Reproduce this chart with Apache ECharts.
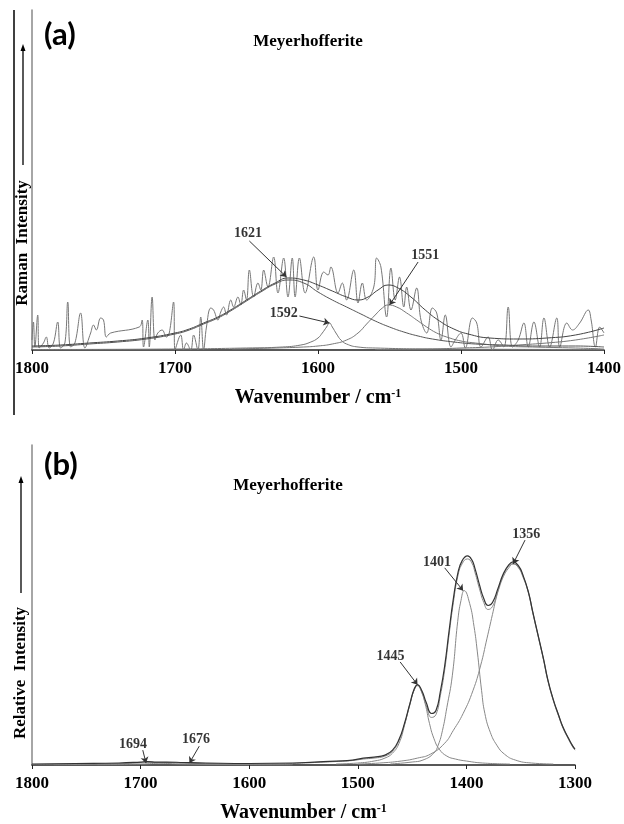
<!DOCTYPE html>
<html>
<head>
<meta charset="utf-8">
<title>Meyerhofferite</title>
<script src="https://cdn.jsdelivr.net/npm/echarts@6/dist/echarts.min.js"></script>
<style>
  html, body { margin: 0; padding: 0; background: #fff; }
  #chart { width: 624px; height: 824px; }
</style>
</head>
<body>
<div id="chart"></div>
<script>
// ---- panel (a): Raman spectrum 1800-1400 cm-1 (intensity in arbitrary units)
var ticksA = [1800, 1700, 1600, 1500, 1400];
var spectrumA = [
  [1800,10],[1799,28],[1798,3],[1796,35],[1795,2],[1792,7],[1790,13],[1788,2],[1785,7],[1782,28],
  [1780,2],[1777,7],[1775,48],[1773,3],[1770,7],[1766,37],[1763,2],[1759,17],[1757,25],[1755,20],
  [1752,32],[1750,30],[1748,13],[1745,17],[1725,23],[1723,30],[1722,3],[1719,30],[1718,3],[1716,53],
  [1714,10],[1712,17],[1709,20],[1706,13],[1704,17],[1701,48],[1700,0],[1696,15],[1694,0],[1692,7],
  [1689,0],[1687,15],[1684,0],[1682,33],[1680,0],[1678,23],[1675,42],[1673,40],[1670,30],[1668,38],
  [1666,43],[1664,35],[1661,50],[1659,43],[1656,53],[1654,45],[1652,60],[1650,50],[1648,80],[1645,53],
  [1642,67],[1640,60],[1638,80],[1635,63],[1631,93],[1628,57],[1624,92],[1621,53],[1618,92],[1616,53],
  [1613,92],[1609,57],[1603,93],[1600,60],[1596,78],[1593,75],[1591,83],[1586,57],[1583,67],[1580,50],
  [1575,80],[1572,47],[1569,67],[1566,50],[1561,63],[1559,92],[1556,83],[1552,33],[1549,82],[1546,50],
  [1543,73],[1540,43],[1538,63],[1535,40],[1531,62],[1528,30],[1524,17],[1520,42],[1517,37],[1514,10],
  [1511,35],[1507,3],[1504,10],[1500,17],[1497,2],[1492,32],[1489,27],[1486,3],[1481,13],[1478,0],
  [1474,10],[1470,3],[1467,43],[1464,3],[1460,10],[1456,27],[1453,3],[1449,28],[1445,3],[1442,32],
  [1438,3],[1433,32],[1431,3],[1426,27],[1422,20],[1417,27],[1411,40],[1409,30],[1406,3],[1403,23],[1400,17]
];
var envelopeA = [
  [1800,4],[1780,5],[1760,7],[1740,9],[1720,12],[1700,17],[1690,21],[1680,27],[1670,33],[1660,41],
  [1650,50],[1640,59],[1630,67],[1621,72],[1610,70],[1600,65],[1590,59],[1580,53],[1572,50],[1565,53],
  [1558,60],[1551,65],[1544,62],[1535,53],[1525,40],[1515,29],[1505,21],[1495,16],[1480,12],[1460,11],
  [1440,12],[1420,15],[1400,22]
];
var band1621 = [
  [1800,3],[1780,4],[1760,6],[1740,8],[1720,11],[1700,16],[1690,20],[1680,26],[1670,32],[1660,40],
  [1650,49],[1640,58],[1630,66],[1621,70],[1610,67],[1600,58],[1590,50],[1580,43],[1570,36],[1560,29],
  [1550,23],[1540,18],[1530,14],[1520,11],[1505,8],[1490,6],[1470,5],[1450,4],[1420,4],[1400,3]
];
var band1592 = [
  [1800,0.5],[1700,1],[1650,2],[1625,3],[1612,5],[1605,8],[1600,12],[1597,17],[1594,23],[1592,27],
  [1590,23],[1587,16],[1584,10],[1580,6],[1572,3],[1560,2],[1520,1],[1400,0.5]
];
var band1551 = [
  [1660,1],[1630,2],[1610,3],[1600,4],[1590,6],[1580,10],[1572,17],[1566,26],[1560,35],[1555,42],
  [1551,45],[1545,43],[1538,37],[1530,29],[1524,23],[1517,17],[1510,13],[1500,9],[1490,7],[1470,4],
  [1450,3],[1420,2],[1400,1]
];
var bandLowA = [
  [1560,0.5],[1520,1],[1500,2],[1480,3],[1460,5],[1440,7],[1420,10],[1400,15]
];
// label text, label anchor [wavenumber, intensity], arrow start, arrow tip
var notesA = [
  ['1621', [1649,117], [1648,109], [1622,73]],
  ['1592', [1624,37], [1613,34], [1592,27]],
  ['1551', [1525,95], [1530,88], [1550,45]]
];

// ---- panel (b): fitted bands 1800-1300 cm-1
var ticksB = [1800, 1700, 1600, 1500, 1400, 1300];
var envelopeB = [
  [1800,1],[1760,1.5],[1720,2],[1700,3],[1694,3.5],[1685,3],[1676,3],[1660,2.5],[1640,2],[1600,1.5],
  [1560,2],[1540,3],[1520,4],[1505,5],[1495,7],[1485,8],[1475,10],[1468,15],[1462,26],[1457,42],
  [1452,62],[1448,77],[1445,81],[1441,75],[1437,63],[1432,52],[1428,55],[1424,74],[1420,100],[1416,135],
  [1412,168],[1408,193],[1404,206],[1399,211],[1395,207],[1392,198],[1388,182],[1384,168],[1380,161],[1376,164],
  [1371,178],[1366,193],[1361,202],[1357,205],[1352,201],[1348,192],[1343,175],[1339,155],[1334,131],[1329,107],
  [1325,86],[1320,66],[1315,50],[1311,38],[1306,27],[1302,19],[1300,16]
];
var dataB = [
  [1800,0.5],[1760,1],[1720,1.5],[1700,2.5],[1694,3],[1685,2.5],[1676,2.5],[1660,2],[1640,1.5],[1600,1],
  [1560,1.5],[1540,2.5],[1520,3.5],[1505,4.5],[1495,6],[1485,7],[1475,9],[1468,14],[1462,25],[1457,41],
  [1452,61],[1448,76],[1445,80],[1441,73],[1437,60],[1432,48],[1428,51],[1424,70],[1420,96],[1416,131],
  [1412,164],[1408,190],[1404,203],[1399,208],[1395,204],[1392,194],[1388,178],[1384,164],[1380,157],[1376,160],
  [1371,175],[1366,190],[1361,199],[1357,203],[1352,199],[1348,190],[1343,174],[1339,154],[1334,130],[1329,106],
  [1325,85],[1320,65],[1315,49],[1311,37],[1306,26],[1302,18],[1300,15]
];
var band1445 = [
  [1520,1],[1500,2],[1485,4],[1475,7],[1468,12],[1462,22],[1457,40],[1452,62],[1448,76],[1445,81],
  [1442,76],[1438,62],[1434,42],[1430,27],[1425,16],[1418,9],[1410,6],[1400,4],[1385,2],[1360,1]
];
var band1401 = [
  [1470,1],[1450,3],[1440,5],[1430,12],[1426,20],[1422,35],[1418,58],[1413,90],[1408,145],[1405,166],
  [1402,176],[1397,163],[1393,140],[1390,115],[1386,75],[1383,52],[1378,33],[1372,20],[1365,11],[1355,5],
  [1340,2],[1320,1]
];
var band1356 = [
  [1500,1],[1480,2],[1460,4],[1445,7],[1433,11],[1420,22],[1412,35],[1403,52],[1394,75],[1387,100],
  [1381,128],[1376,152],[1372,171],[1368,186],[1364,196],[1360,202],[1357,203],[1352,200],[1348,191],[1343,175],
  [1339,155],[1334,131],[1329,107],[1325,86],[1320,66],[1315,50],[1311,38],[1306,27],[1302,19],[1300,16]
];
var band1694 = [
  [1780,0.3],[1740,0.8],[1715,1.5],[1700,2.5],[1694,3],[1688,2.5],[1675,1.5],[1650,0.8],[1600,0.3]
];
var band1676 = [
  [1740,0.3],[1700,1],[1680,2],[1670,2.5],[1660,2],[1640,1],[1600,0.4],[1560,0.2]
];
var notesB = [
  ['1694', [1707,21], [1698,15], [1695,2]],
  ['1676', [1649,26], [1646,19], [1655,2]],
  ['1445', [1470,110], [1461,104], [1445,81]],
  ['1401', [1427,205], [1420,199], [1403,176]],
  ['1356', [1345,233], [1346,227], [1357,203]]
];

var serif = '"Liberation Serif", "Times New Roman", serif';

function curve(idx, data, color, width, smooth) {
  return {
    type: 'line', xAxisIndex: idx, yAxisIndex: idx, data: data,
    showSymbol: false, smooth: smooth, silent: true,
    lineStyle: { color: color, width: width }
  };
}

function notes(idx, list) {
  return {
    type: 'scatter', xAxisIndex: idx, yAxisIndex: idx, symbolSize: 0, silent: true,
    data: list.map(function (n) { return [n[1][0], n[1][1], n[0]]; }),
    label: {
      show: true, position: 'inside', color: '#000',
      fontFamily: serif, fontWeight: 'bold', fontSize: 14,
      formatter: function (p) { return p.value[2]; }
    },
    markLine: {
      silent: true, symbol: ['none', 'arrow'], symbolSize: 6, label: { show: false },
      lineStyle: { color: '#333', width: 1, type: 'solid' },
      data: list.map(function (n) { return [{ coord: n[2] }, { coord: n[3] }]; })
    }
  };
}

function xAxisOf(idx, ticks) {
  return {
    gridIndex: idx, type: 'value', min: ticks[ticks.length - 1], max: ticks[0], interval: 100, inverse: true,
    splitLine: { show: false },
    axisLine: { lineStyle: { color: '#222', width: 1.5 } },
    axisTick: { length: 4, lineStyle: { color: '#222' } },
    axisLabel: {
      margin: 10, color: '#000', fontFamily: serif, fontWeight: 'bold', fontSize: 17,
      formatter: function (v) { return String(v); }
    },
    name: 'Wavenumber / cm{sup|-1}', nameLocation: 'middle', nameGap: 38,
    nameTextStyle: {
      color: '#000', fontFamily: serif, fontWeight: 'bold', fontSize: 20,
      rich: { sup: { fontFamily: serif, fontWeight: 'bold', fontSize: 12, verticalAlign: 'top', color: '#000' } }
    }
  };
}

function yAxisOf(idx, max) {
  return {
    gridIndex: idx, type: 'value', min: 0, max: max,
    axisLine: { show: true, lineStyle: { color: '#888', width: 1.5 } },
    axisTick: { show: false }, axisLabel: { show: false }, splitLine: { show: false }
  };
}

var titleFont = { fontFamily: serif, fontWeight: 'bold', fontSize: 17, color: '#000' };
var panelFont = { fontFamily: 'Lato, "Liberation Sans", sans-serif', fontWeight: 'bold', fontSize: 31, color: '#000' };

var chart = echarts.init(document.getElementById('chart'));
chart.setOption({
  animation: false,
  backgroundColor: '#fff',
  title: [
    { text: 'Meyerhofferite', left: 308, top: 33, textAlign: 'center', padding: 0, textStyle: titleFont },
    { text: 'Meyerhofferite', left: 288, top: 477, textAlign: 'center', padding: 0, textStyle: titleFont },
    { text: '(a)', left: 44, top: 19, padding: 0, textStyle: panelFont },
    { text: '(b)', left: 44, top: 449, padding: 0, textStyle: panelFont }
  ],
  grid: [
    { left: 32, right: 20, top: 10, height: 340 },
    { left: 32, right: 49, top: 445, height: 323 }
  ],
  xAxis: [xAxisOf(0, ticksA), xAxisOf(1, ticksB)],
  yAxis: [yAxisOf(0, 340), yAxisOf(1, 323)],
  graphic: [
    { type: 'line', shape: { x1: 14, y1: 10, x2: 14, y2: 415 }, style: { stroke: '#000', lineWidth: 1.5 } },
    { type: 'line', shape: { x1: 23, y1: 165, x2: 23, y2: 50 }, style: { stroke: '#000', lineWidth: 1.3 } },
    { type: 'polygon', shape: { points: [[23, 44], [20.5, 51], [25.5, 51]] }, style: { fill: '#000' } },
    { type: 'text', x: 23, y: 243, rotation: Math.PI / 2,
      style: { text: 'Raman  Intensity', align: 'center', verticalAlign: 'middle', fill: '#000',
               font: 'bold 17px ' + serif } },
    { type: 'line', shape: { x1: 21, y1: 593, x2: 21, y2: 482 }, style: { stroke: '#000', lineWidth: 1.3 } },
    { type: 'polygon', shape: { points: [[21, 476], [18.5, 483], [23.5, 483]] }, style: { fill: '#000' } },
    { type: 'text', x: 21, y: 673, rotation: Math.PI / 2,
      style: { text: 'Relative  Intensity', align: 'center', verticalAlign: 'middle', fill: '#000',
               font: 'bold 17px ' + serif } }
  ],
  series: [
    curve(0, spectrumA, '#777', 1, 0.4),
    curve(0, band1592, '#777', 1, true),
    curve(0, band1551, '#777', 1, true),
    curve(0, bandLowA, '#777', 1, true),
    curve(0, band1621, '#555', 1, true),
    curve(0, envelopeA, '#444', 1, true),
    notes(0, notesA),
    curve(1, band1694, '#888', 1, true),
    curve(1, band1676, '#888', 1, true),
    curve(1, band1445, '#888', 1, true),
    curve(1, band1401, '#888', 1, true),
    curve(1, band1356, '#888', 1, true),
    curve(1, dataB, '#888', 1, true),
    curve(1, envelopeB, '#333', 1.2, true),
    notes(1, notesB)
  ]
});
</script>
</body>
</html>
